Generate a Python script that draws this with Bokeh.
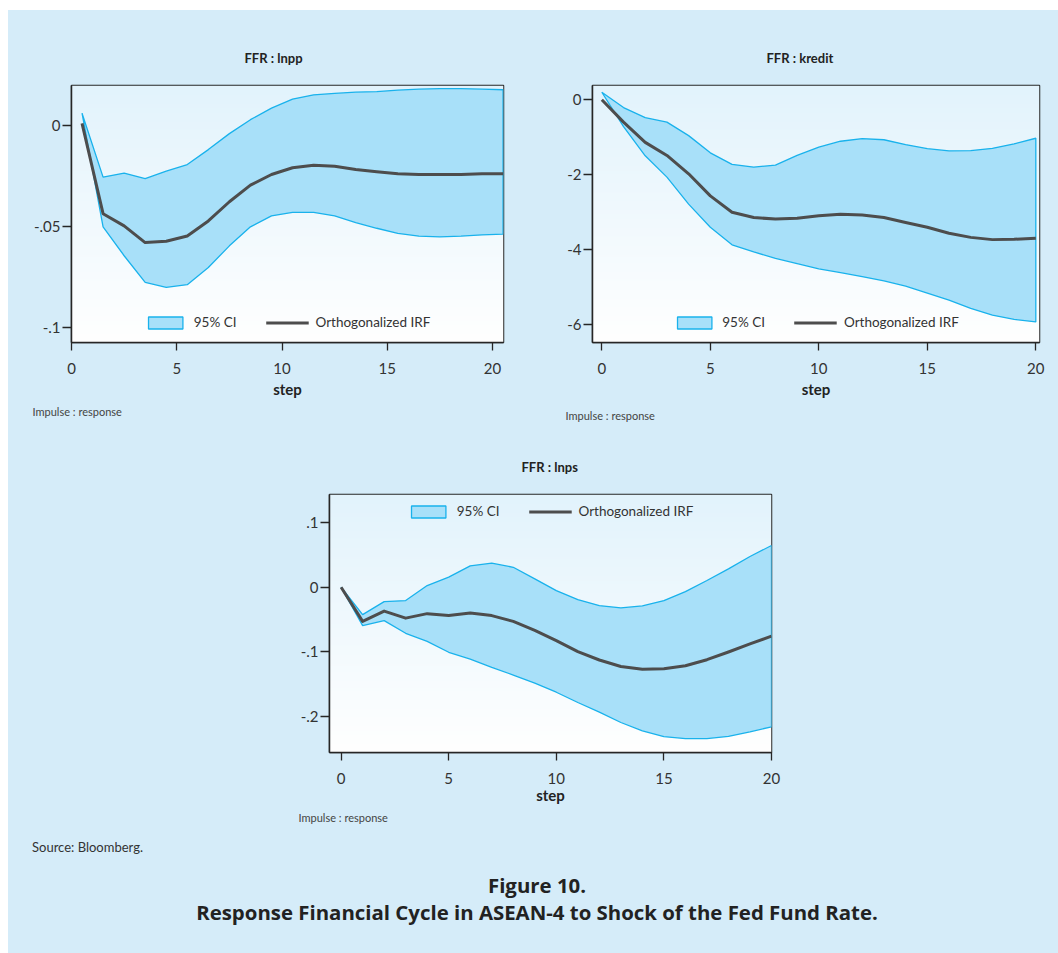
import numpy as np
from bokeh.plotting import figure
from bokeh.models import Range1d, FixedTicker, Title, Legend, LegendItem, Div, Spacer
from bokeh.layouts import column, row
from bokeh.embed import file_html
from bokeh.resources import INLINE

# ---------------- data ----------------
x_ticks = [0, 5, 10, 15, 20]

lnpp_step = [0.5, 1.5, 2.5, 3.5, 4.5, 5.5, 6.5, 7.5, 8.5, 9.5, 10.5,
             11.5, 12.5, 13.5, 14.5, 15.5, 16.5, 17.5, 18.5, 19.5, 20.5]
lnpp_irf = [0.001, -0.0437, -0.0497, -0.058, -0.0573, -0.0547, -0.0473, -0.0378, -0.0296, -0.0243, -0.021,
            -0.0197, -0.0202, -0.0218, -0.023, -0.024, -0.0243, -0.0243, -0.0243, -0.024, -0.024]
lnpp_hi = [0.006, -0.0256, -0.0236, -0.0264, -0.0227, -0.0194, -0.012, -0.0041, 0.0028, 0.0085, 0.013,
           0.0151, 0.0158, 0.0164, 0.0167, 0.0174, 0.0179, 0.0182, 0.0182, 0.0179, 0.0176]
lnpp_lo = [0.006, -0.0502, -0.0645, -0.0777, -0.0801, -0.0788, -0.0703, -0.0596, -0.0502, -0.0448, -0.043,
           -0.043, -0.0448, -0.0481, -0.0509, -0.0534, -0.0548, -0.0552, -0.0548, -0.0542, -0.0538]
lnpp_yticks = [0, -0.05, -0.1]
lnpp_ylabels = ["0", "-.05", "-.1"]

kredit_step = list(range(21))
kredit_irf = [0.0, -0.6, -1.14, -1.49, -1.98, -2.57, -3.01, -3.15, -3.19, -3.17, -3.1,
              -3.06, -3.08, -3.15, -3.28, -3.41, -3.57, -3.68, -3.74, -3.73, -3.7]
kredit_hi = [0.2, -0.21, -0.48, -0.6, -0.96, -1.42, -1.73, -1.8, -1.75, -1.49, -1.27,
             -1.11, -1.04, -1.07, -1.2, -1.31, -1.37, -1.36, -1.3, -1.18, -1.03]
kredit_lo = [0.2, -0.72, -1.5, -2.07, -2.79, -3.41, -3.88, -4.07, -4.24, -4.38, -4.52,
             -4.62, -4.73, -4.84, -4.98, -5.17, -5.36, -5.58, -5.76, -5.87, -5.94]
kredit_yticks = [0, -2, -4, -6]
kredit_ylabels = ["0", "-2", "-4", "-6"]

lnps_step = list(range(21))
lnps_irf = [0.0, -0.053, -0.037, -0.048, -0.041, -0.044, -0.040, -0.044, -0.053, -0.067, -0.083,
            -0.100, -0.113, -0.123, -0.1275, -0.1265, -0.122, -0.1125, -0.1006, -0.088, -0.076]
lnps_hi = [0.0, -0.0425, -0.0223, -0.0207, 0.0026, 0.0156, 0.0332, 0.0373, 0.031, 0.013, -0.0052,
           -0.0192, -0.0285, -0.0321, -0.029, -0.0207, -0.0067, 0.0104, 0.0285, 0.0477, 0.0648]
lnps_lo = [0.0, -0.0596, -0.0518, -0.0715, -0.084, -0.101, -0.1115, -0.1244, -0.1363, -0.149, -0.163,
           -0.179, -0.194, -0.21, -0.223, -0.232, -0.235, -0.235, -0.2317, -0.2245, -0.2167]
lnps_yticks = [0.1, 0, -0.1, -0.2]
lnps_ylabels = [".1", "0", "-.1", "-.2"]

# ---------------- style ----------------
BG = "#d5ecf9"
FONT = "Lato"
TXT = "#333333"
CI_FILL = "#a8e0f9"
CI_LINE = "#19b2ec"
IRF_COL = "#4d4d4d"


def gradient_image(n=256):
    top = np.array([0xE2, 0xF3, 0xFC], dtype=float)
    bot = np.array([0xFF, 0xFF, 0xFF], dtype=float)
    t = np.linspace(0, 1, n)[:, None]  # row 0 = bottom
    cols = bot * (1 - t) + top * t
    img = np.empty((n, 1), dtype=np.uint32)
    view = img.view(dtype=np.uint8).reshape((n, 1, 4))
    view[:, 0, 0] = cols[:, 0]
    view[:, 0, 1] = cols[:, 1]
    view[:, 0, 2] = cols[:, 2]
    view[:, 0, 3] = 255
    return img


def panel(title, title_off, title_standoff, imp_off, imp_standoff, step_standoff, step, irf, lo, hi,
          yticks, ylabels, xr, yr, width, height, borders, legend_loc, legend_margin):
    bl, br, bt, bb = borders
    p = figure(width=width, height=height, output_backend="svg", toolbar_location=None,
               x_range=Range1d(*xr), y_range=Range1d(*yr),
               min_border_left=bl, min_border_right=br, min_border_top=bt, min_border_bottom=bb)
    p.border_fill_color = BG
    p.background_fill_color = "white"
    p.outline_line_color = "#262626"
    p.outline_line_width = 1.5
    p.xgrid.visible = False
    p.ygrid.visible = False

    p.image_rgba(image=[gradient_image()], x=xr[0], y=yr[0], dw=xr[1] - xr[0], dh=yr[1] - yr[0])

    xs = list(step) + list(step)[::-1]
    ys = list(hi) + list(lo)[::-1]
    ci = p.patch(xs, ys, fill_color=CI_FILL, line_color=CI_LINE, line_width=1.3)
    ln = p.line(step, irf, line_color=IRF_COL, line_width=3, line_join="round")

    for ax in (p.xaxis[0], p.yaxis[0]):
        ax.axis_line_color = "#262626"
        ax.axis_line_width = 1.5
        ax.major_tick_line_color = "#262626"
        ax.major_tick_line_width = 1.3
        ax.minor_tick_line_color = None
        ax.major_tick_in = 0
        ax.major_label_text_font = FONT
        ax.major_label_text_font_size = "15px"
        ax.major_label_text_color = TXT
    p.xaxis.ticker = FixedTicker(ticks=x_ticks)
    p.xaxis.major_tick_out = 8
    p.xaxis.major_label_standoff = 12
    p.xaxis.axis_label = "step"
    p.xaxis.axis_label_text_font = FONT
    p.xaxis.axis_label_text_font_style = "bold"
    p.xaxis.axis_label_text_font_size = "15px"
    p.xaxis.axis_label_text_color = "#222222"
    p.xaxis.axis_label_standoff = step_standoff

    p.yaxis.ticker = FixedTicker(ticks=yticks)
    p.yaxis.major_label_overrides = {t: l for t, l in zip(yticks, ylabels)}
    p.yaxis.major_tick_out = 9
    p.yaxis.major_label_standoff = 2
    p.yaxis.major_label_orientation = "horizontal"

    p.title = Title(text=title, align="left", offset=title_off, text_font=FONT,
                    text_font_style="bold", text_font_size="13px", text_color="#222222",
                    standoff=title_standoff)
    p.add_layout(Title(text="Impulse : response", align="left", offset=imp_off, text_font=FONT,
                       text_font_style="normal", text_font_size="11px", text_color="#444444",
                       standoff=imp_standoff), "below")

    leg = Legend(items=[LegendItem(label="95% CI", renderers=[ci]),
                        LegendItem(label="Orthogonalized IRF", renderers=[ln])],
                 orientation="horizontal", location=legend_loc, margin=legend_margin,
                 padding=0, spacing=29, label_standoff=7, glyph_width=43, glyph_height=15,
                 label_text_font=FONT, label_text_font_size="13.5px", label_text_color=TXT,
                 border_line_color=None, background_fill_alpha=0)
    p.add_layout(leg, "center")
    return p


p1 = panel("FFR : lnpp", 173, 40, -39, 4, 3, lnpp_step, lnpp_irf, lnpp_lo, lnpp_hi, lnpp_yticks,
           lnpp_ylabels, (0, 20.52), (-0.1074, 0.0197), 522, 420, (63, 27, 74, 88), "bottom_center", 12)
p2 = panel("FFR : kredit", 174, 40, -27, 12, 3, kredit_step, kredit_irf, kredit_lo, kredit_hi,
           kredit_yticks, kredit_ylabels, (-0.43, 20.17), (-6.49, 0.38), 528, 420, (62, 19, 75, 88),
           "bottom_center", 12)
p3 = panel("FFR : lnps", 192, 39, -31, 4, -1, lnps_step, lnps_irf, lnps_lo, lnps_hi, lnps_yticks,
           lnps_ylabels, (-0.54, 20.0), (-0.2566, 0.144), 521, 400, (59, 20, 64, 78), "top_center", 9)

source = Div(text='<div style="font-family:Lato;font-size:13px;color:#333;'
                  'padding-left:24px;padding-top:8px;">Source: Bloomberg.</div>',
             width=1050, height=32, margin=0)
caption = Div(text='<div style="font-family:\'Open Sans\';font-weight:bold;font-size:20.4px;color:#222;'
                   'line-height:27px;text-align:center;width:1050px;padding-top:10px;padding-left:8px;'
                   'box-sizing:border-box;">Figure 10.<br>Response Financial Cycle in ASEAN-4 to Shock '
                   'of the Fed Fund Rate.</div>',
              width=1050, height=91, margin=0)

inner = column(
    row(p1, p2, spacing=0),
    row(Spacer(width=262, height=400), p3, spacing=0),
    source,
    caption,
    spacing=0,
    styles={"background-color": BG},
)

layout = column(Spacer(width=1058, height=10),
                row(Spacer(width=8, height=943), inner, spacing=0),
                spacing=0)

with open("out.html", "w") as f:
    f.write(file_html(layout, INLINE))
